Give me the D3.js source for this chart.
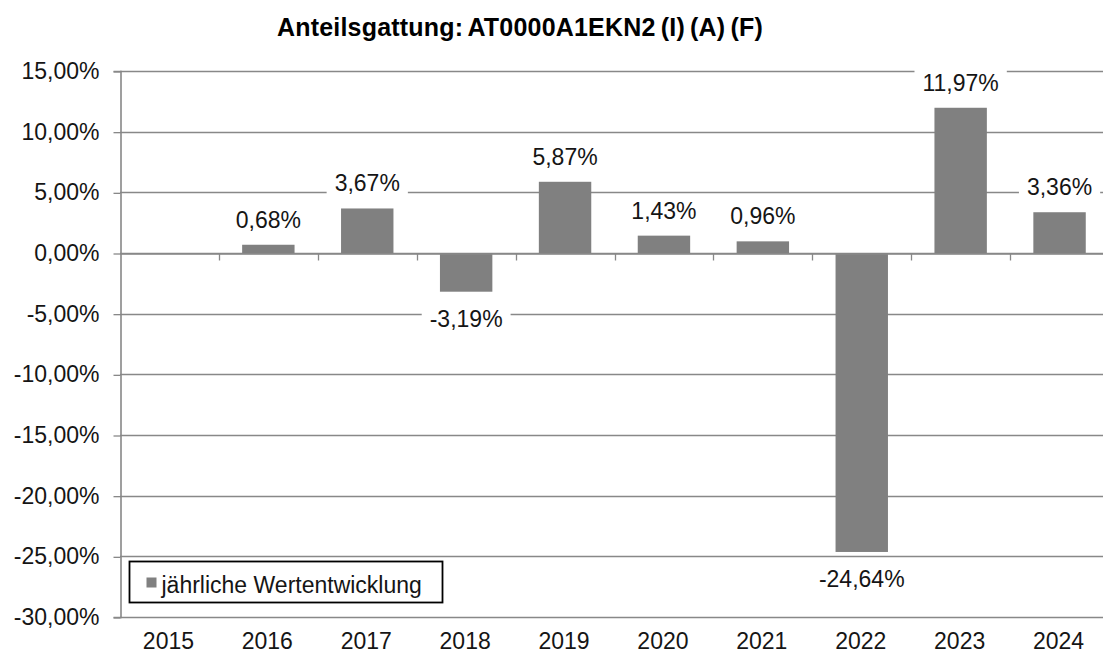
<!DOCTYPE html>
<html lang="de">
<head>
  <meta charset="UTF-8" />
  <title>Anteilsgattung</title>
  <script src="https://cdn.jsdelivr.net/npm/d3@7"></script>
  <style>
    body { margin: 0; background: #fff; }
    svg { font-family: "Liberation Sans", Arial, sans-serif; }
  </style>
</head>
<body>
  <svg id="svg"></svg>
</body>
<script>
  const years = ["2015", "2016", "2017", "2018", "2019", "2020", "2021", "2022", "2023", "2024"];
  const values = [null, 0.68, 3.67, -3.19, 5.87, 1.43, 0.96, -24.64, 11.97, 3.36];
  const yTicks = [15, 10, 5, 0, -5, -10, -15, -20, -25, -30];

  const width = 1103;
  const height = 655;
  const plot = { left: 120, top: 71, bottom: 617, right: 1109 };
  const fs = 23;

  const svg = d3.select("#svg").attr("width", width).attr("height", height);

  const fmt = (v) => v.toFixed(2).replace(".", ",") + "%";

  const x = d3.scaleBand().domain(years).range([plot.left, plot.right]).paddingInner(0.47).paddingOuter(0.235);
  const xb = d3.scaleBand().domain(years).range([plot.left, plot.right]);
  const y = d3.scaleLinear().domain([-30, 15]).range([plot.bottom, plot.top]);

  // gridlines
  svg.append("g")
    .selectAll("line")
    .data(yTicks)
    .join("line")
    .attr("x1", plot.left)
    .attr("x2", plot.right)
    .attr("y1", (d) => Math.round(y(d)) + 0.5)
    .attr("y2", (d) => Math.round(y(d)) + 0.5)
    .attr("stroke", "#888")
    .attr("stroke-width", 1.3);

  // y axis
  const yAxis = d3.axisLeft(y).tickValues(yTicks).tickSize(7).tickPadding(14).tickFormat(fmt);
  const gy = svg.append("g").attr("transform", `translate(${plot.left + 0.5},0)`).call(yAxis);
  gy.select(".domain").attr("stroke", "#888").attr("stroke-width", 1.6);
  gy.selectAll(".tick line").attr("stroke", "#888").attr("stroke-width", 1.3)
    .attr("transform", "translate(0,0.5)");
  gy.selectAll(".tick text").attr("font-size", fs).attr("fill", "#151515")
    .attr("font-family", "Liberation Sans, Arial, sans-serif");

  // bars
  const data = years.map((yr, i) => ({ year: yr, value: values[i] })).filter((d) => d.value !== null);
  svg.append("g")
    .selectAll("rect")
    .data(data)
    .join("rect")
    .attr("x", (d) => x(d.year))
    .attr("width", x.bandwidth())
    .attr("y", (d) => y(Math.max(0, d.value)))
    .attr("height", (d) => Math.abs(y(d.value) - y(0)))
    .attr("fill", "#808080");

  // zero line with category ticks
  const xAxis = d3.axisBottom(xb).tickSize(0).tickFormat(() => "");
  const gx = svg.append("g").attr("transform", `translate(0,${Math.round(y(0)) + 0.5})`).call(xAxis);
  gx.select(".domain").attr("stroke", "#888").attr("stroke-width", 1.6);
  gx.selectAll(".tick").remove();
  gx.selectAll(".btick")
    .data(years.slice(1))
    .join("line")
    .attr("x1", (d) => Math.round(xb(d)) + 0.5)
    .attr("x2", (d) => Math.round(xb(d)) + 0.5)
    .attr("y1", 0)
    .attr("y2", 7)
    .attr("stroke", "#888")
    .attr("stroke-width", 1.3);

  // category labels at bottom
  svg.append("g")
    .selectAll("text")
    .data(years)
    .join("text")
    .attr("x", (d) => xb(d) + xb.bandwidth() / 2 - 1)
    .attr("y", 649)
    .attr("text-anchor", "middle")
    .attr("font-size", fs)
    .attr("fill", "#151515")
    .text((d) => d);

  // value labels with white background
  const labels = svg.append("g")
    .selectAll("g")
    .data(data)
    .join("g")
    .attr("transform", (d) => {
      const cx = x(d.year) + x.bandwidth() / 2;
      const cy = d.value >= 0 ? y(d.value) - 17 : y(d.value) + 35;
      return `translate(${cx},${cy})`;
    });
  labels.each(function (d) {
    const g = d3.select(this);
    const t = g.append("text")
      .attr("text-anchor", "middle")
      .attr("font-size", fs)
      .attr("fill", "#151515")
      .text(fmt(d.value));
    const w = t.node().getComputedTextLength();
    g.insert("rect", "text")
      .attr("x", -w / 2 - 8)
      .attr("y", -24)
      .attr("width", w + 16)
      .attr("height", 30)
      .attr("fill", "#fff");
  });

  // legend
  const lg = svg.append("g").attr("transform", "translate(129.5,561.5)");
  lg.append("rect").attr("width", 313).attr("height", 41)
    .attr("fill", "#fff").attr("stroke", "#000").attr("stroke-width", 1.8);
  lg.append("rect").attr("x", 17).attr("y", 16).attr("width", 10).attr("height", 10).attr("fill", "#808080");
  lg.append("text").attr("x", 32).attr("y", 31).attr("font-size", fs).attr("fill", "#151515")
    .text("jährliche Wertentwicklung");

  // title
  svg.append("text")
    .attr("x", 520)
    .attr("y", 36)
    .attr("text-anchor", "middle")
    .attr("font-size", 25)
    .attr("font-weight", "bold")
    .attr("word-spacing", -2)
    .attr("letter-spacing", 0.2)
    .attr("fill", "#000")
    .text("Anteilsgattung: AT0000A1EKN2 (I) (A) (F)");
</script>
</html>
